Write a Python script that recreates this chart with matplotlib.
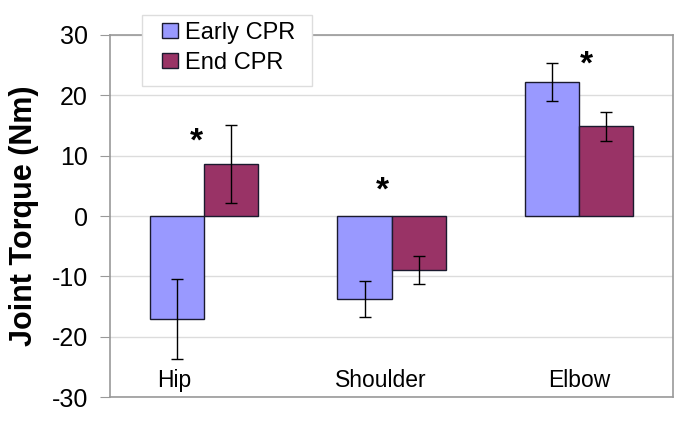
import matplotlib.pyplot as plt
from matplotlib.patches import Rectangle
import numpy as np

plt.rcParams['font.family'] = ['Liberation Sans', 'DejaVu Sans']
plt.rcParams['axes.unicode_minus'] = False

# data
joints = ["Hip", "Shoulder", "Elbow"]
series = ["Early CPR", "End CPR"]
early = [-17.1, -13.7, 22.2]
early_err = [6.6, 3.0, 3.15]
end = [8.6, -8.9, 14.9]
end_err = [6.4, 2.3, 2.4]
star_x = [-0.04, -0.05, 0.04]
star_y = [12.3, 4.1, 25.0]
label_dx = [-0.16, -0.055, 0.0]

colors = ["#9999FF", "#993366"]

fig = plt.figure(figsize=(6.85, 4.33), dpi=100)
ax = fig.add_axes([0.1606, 0.0831, 0.822, 0.8361])

x = np.arange(len(joints))
w = 0.288
ax.bar(x - w / 2, early, w, color=colors[0], edgecolor="#1a1a2e", linewidth=1.0,
       label=series[0], zorder=2)
ax.bar(x + w / 2, end, w, color=colors[1], edgecolor="#1a1a2e", linewidth=1.0,
       label=series[1], zorder=2)
ax.errorbar(x - w / 2, early, yerr=early_err, fmt="none", ecolor="black",
            elinewidth=1.0, capsize=4, capthick=1.0, zorder=3)
ax.errorbar(x + w / 2, end, yerr=end_err, fmt="none", ecolor="black",
            elinewidth=1.0, capsize=4, capthick=1.0, zorder=3)

for i in range(len(joints)):
    ax.text(x[i] + star_x[i], star_y[i], "*", ha="center", va="center",
            fontsize=24, fontweight="bold")
    ax.text(x[i] + label_dx[i], -27.3, joints[i], ha="center", va="center",
            fontsize=16.5)

ax.set_xlim(-0.5, 2.5)
ax.set_ylim(-30, 30)
ax.set_yticks(np.arange(-30, 31, 10))
ax.set_xticks([])
ax.tick_params(axis="y", labelsize=18, length=7, color="#999999", pad=9)
ax.yaxis.grid(True, color="#dcdcdc", linewidth=1.0, zorder=0)
ax.set_axisbelow(True)
for s in ax.spines.values():
    s.set_color("#999999")
    s.set_linewidth(1.2)

ax.set_ylabel("Joint Torque (Nm)", fontsize=22, fontweight="bold", labelpad=9)

# legend box sits over the top spine
fig.patches.append(Rectangle((0.2073, 0.8014), 0.2482, 0.164,
                             transform=fig.transFigure, facecolor="white",
                             edgecolor="#dddddd", linewidth=1.0, zorder=1))
handles, labels = ax.get_legend_handles_labels()
leg = fig.legend(handles, labels, loc="upper left",
                 bbox_to_anchor=(162 / 685, 1 - 22 / 433), fontsize=17,
                 frameon=False, borderaxespad=0, borderpad=0,
                 handlelength=0.68, handleheight=0.62, handletextpad=0.3,
                 labelspacing=0.32)
leg.set_zorder(5)

fig.savefig("out.png", dpi=100)
